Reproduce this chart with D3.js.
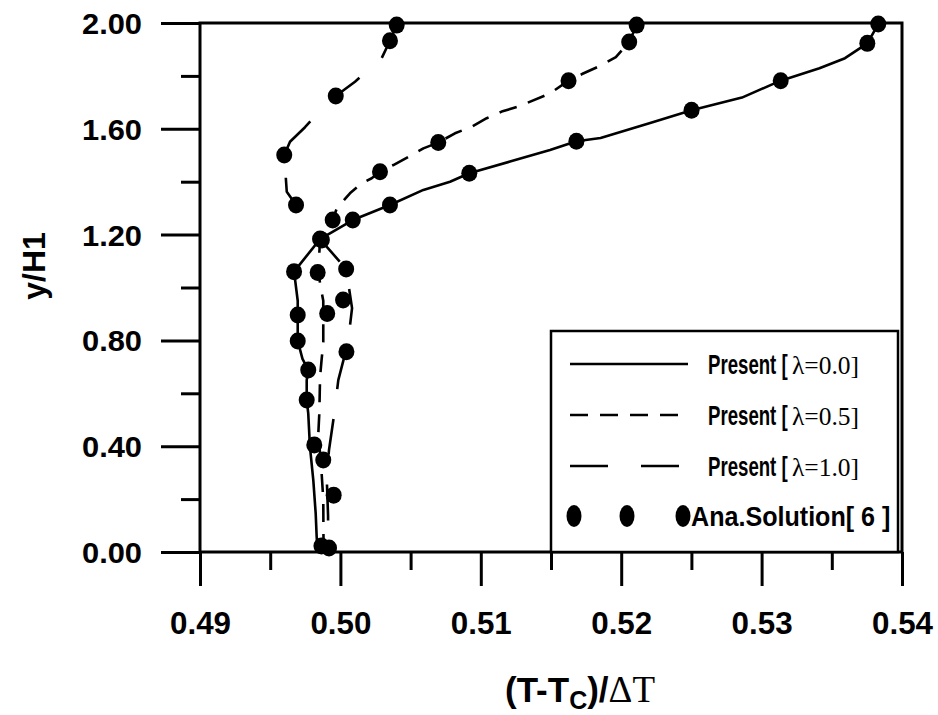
<!DOCTYPE html>
<html>
<head>
<meta charset="utf-8">
<script src="https://cdn.jsdelivr.net/npm/d3@7"></script>
<style>
  html, body { margin: 0; padding: 0; background: #fff; }
  svg { display: block; }
</style>
</head>
<body>
<svg id="chart" width="938" height="715"></svg>
<script>
// Temperature profiles (T - Tc)/ΔT against height y/H1

// Present computation, λ = 0.0 (solid)
const t00 = [0.53831, 0.53753, 0.53594, 0.53412, 0.53136, 0.52860, 0.52501, 0.52212, 0.51853, 0.51681,
             0.51493, 0.51208, 0.50918, 0.50781, 0.50591, 0.50353, 0.50088, 0.49855, 0.49670, 0.49696,
             0.49696, 0.49696, 0.49730, 0.49771, 0.49760, 0.49760, 0.49771, 0.49783, 0.49807, 0.49824,
             0.49831, 0.49838];
const y00 = [1.996, 1.923, 1.867, 1.829, 1.782, 1.718, 1.670, 1.623, 1.565, 1.553,
             1.520, 1.476, 1.432, 1.400, 1.369, 1.312, 1.255, 1.183, 1.060, 0.950,
             0.896, 0.798, 0.730, 0.688, 0.650, 0.575, 0.524, 0.398, 0.272, 0.146,
             0.058, 0.000];

// Present computation, λ = 0.5 (dashed)
const t05 = [0.52110, 0.52057, 0.51962, 0.51853, 0.51721, 0.51625, 0.51493, 0.51267, 0.51149, 0.51042,
             0.50935, 0.50816, 0.50697, 0.50591, 0.50484, 0.50377, 0.50282, 0.50223, 0.50152, 0.50068,
             0.49974, 0.49945, 0.49879, 0.49855, 0.49843, 0.49860, 0.49878, 0.49878, 0.49866, 0.49855,
             0.49850, 0.49843, 0.49866, 0.49878, 0.49880];
const y05 = [1.992, 1.928, 1.871, 1.839, 1.807, 1.782, 1.734, 1.684, 1.665, 1.640,
             1.608, 1.583, 1.548, 1.526, 1.494, 1.463, 1.438, 1.413, 1.394, 1.356,
             1.299, 1.255, 1.212, 1.183, 1.057, 1.000, 0.950, 0.793, 0.726, 0.660,
             0.526, 0.450, 0.300, 0.200, 0.000];

// Present computation, λ = 1.0 (long dash)
const t10 = [0.50401, 0.50353, 0.50294, 0.50104, 0.49967, 0.49926, 0.49748, 0.49641, 0.49600, 0.49618,
             0.49684, 0.49748, 0.49855, 0.50041, 0.50083, 0.50052, 0.50037, 0.49985, 0.49957, 0.49919,
             0.49902, 0.49912, 0.49914];
const y10 = [1.992, 1.933, 1.867, 1.778, 1.724, 1.709, 1.606, 1.551, 1.501, 1.362,
             1.312, 1.249, 1.183, 1.070, 0.922, 0.783, 0.757, 0.650, 0.526, 0.386,
             0.291, 0.140, 0.000];

// Analytical solution [6]
const ana00T = [0.53831, 0.53753, 0.53136, 0.52501, 0.51681, 0.50918, 0.50353, 0.50088, 0.49855, 0.49670,
                0.49696, 0.49696, 0.49771, 0.49760, 0.49814, 0.49865];
const ana00Y = [1.996, 1.923, 1.782, 1.670, 1.553, 1.432, 1.312, 1.255, 1.183, 1.060,
                0.896, 0.798, 0.688, 0.575, 0.405, 0.023];
const ana05T = [0.52110, 0.52057, 0.51625, 0.50697, 0.50282, 0.49945, 0.49838, 0.49906, 0.49878, 0.49919];
const ana05Y = [1.992, 1.928, 1.782, 1.548, 1.438, 1.255, 1.057, 0.902, 0.348, 0.015];
const ana10T = [0.50401, 0.50353, 0.49967, 0.49600, 0.49684, 0.49868, 0.50041, 0.50019, 0.50043, 0.49952];
const ana10Y = [1.992, 1.933, 1.724, 1.501, 1.312, 1.180, 1.070, 0.953, 0.757, 0.215];

// Axis ticks
const xMajor = [0.49, 0.50, 0.51, 0.52, 0.53, 0.54];
const xMinor = [0.495, 0.505, 0.515, 0.525, 0.535];
const yMajor = [0.0, 0.4, 0.8, 1.2, 1.6, 2.0];
const yMinor = [0.2, 0.6, 1.0, 1.4, 1.8];

const legendItems = [
  { label: "Present [", lam: "λ=0.0]", dash: null },
  { label: "Present [", lam: "λ=0.5]", dash: "18,12" },
  { label: "Present [", lam: "λ=1.0]", dash: "38,33" },
  { label: "Ana.Solution[ 6 ]", lam: null, dash: "marker" }
];

const SANS = "'Liberation Sans', Arial, Helvetica, sans-serif";
const SERIF = "'Liberation Serif', 'Times New Roman', Times, serif";

const svg = d3.select("#chart");
const plotL = 200, plotR = 902, plotT = 23, plotB = 552;

const x = d3.scaleLinear().domain([0.49, 0.54]).range([plotL, plotR]);
const y = d3.scaleLinear().domain([0, 2]).range([plotB, plotT]);

// Axes: major ticks with labels, minor ticks without
function styleAxis(g) {
  g.select(".domain").remove();
  g.selectAll(".tick line").attr("stroke", "#000").attr("stroke-width", 3);
}

svg.append("g").attr("transform", `translate(${plotL},0)`)
  .call(d3.axisLeft(y).tickValues(yMinor).tickSize(19).tickFormat(""))
  .call(styleAxis);
svg.append("g").attr("transform", `translate(${plotL},0)`)
  .call(d3.axisLeft(y).tickValues(yMajor).tickSize(39).tickPadding(19).tickFormat(d3.format(".2f")))
  .call(styleAxis)
  .call(g => g.selectAll(".tick text")
    .attr("font-family", SANS).attr("font-weight", "bold").attr("font-size", 29)
    .attr("fill", "#000").attr("dy", "0.36em")
    .attr("textLength", 60).attr("lengthAdjust", "spacingAndGlyphs"));

svg.append("g").attr("transform", `translate(0,${plotB})`)
  .call(d3.axisBottom(x).tickValues(xMinor).tickSize(18).tickFormat(""))
  .call(styleAxis);
svg.append("g").attr("transform", `translate(0,${plotB})`)
  .call(d3.axisBottom(x).tickValues(xMajor).tickSize(34).tickFormat(d3.format(".2f")))
  .call(styleAxis)
  .call(g => g.selectAll(".tick text")
    .attr("font-family", SANS).attr("font-weight", "bold").attr("font-size", 32)
    .attr("fill", "#000").attr("y", 59).attr("dy", "0.71em")
    .attr("textLength", 61).attr("lengthAdjust", "spacingAndGlyphs"));

// Plot frame
svg.append("rect")
  .attr("x", plotL).attr("y", plotT)
  .attr("width", plotR - plotL).attr("height", plotB - plotT)
  .attr("fill", "none").attr("stroke", "#000").attr("stroke-width", 3);

// Curves
const line = d3.line().x(d => x(d[0])).y(d => y(d[1]));
const series = [
  { t: t00, v: y00, dash: null },
  { t: t05, v: y05, dash: "18,12" },
  { t: t10, v: y10, dash: "36,30" }
];
series.forEach(s => {
  svg.append("path")
    .datum(d3.zip(s.t, s.v))
    .attr("d", line)
    .attr("fill", "none")
    .attr("stroke", "#000")
    .attr("stroke-width", 2.6)
    .attr("stroke-linejoin", "round")
    .attr("stroke-dasharray", s.dash);
});

// Analytical markers
const anaPts = [].concat(d3.zip(ana00T, ana00Y), d3.zip(ana05T, ana05Y), d3.zip(ana10T, ana10Y));
svg.append("g").selectAll("ellipse").data(anaPts).join("ellipse")
  .attr("cx", d => x(d[0])).attr("cy", d => y(d[1]))
  .attr("rx", 8).attr("ry", 8.5)
  .attr("fill", "#000");

// Legend (condensed lettering is drawn with a horizontal squeeze)
const lg = svg.append("g");
lg.append("rect")
  .attr("x", 551).attr("y", 331).attr("width", 347).attr("height", plotB - 331)
  .attr("fill", "#fff").attr("stroke", "#000").attr("stroke-width", 2.5);

function squeezed(parent, px, py, sx) {
  return parent.append("g").attr("transform", `translate(${px},${py}) scale(${sx},1)`);
}

const rowY = [364, 415, 466, 516];
legendItems.forEach((it, i) => {
  const cy = rowY[i];
  if (it.dash === "marker") {
    [574, 627, 683].forEach(cx => {
      lg.append("ellipse").attr("cx", cx).attr("cy", cy)
        .attr("rx", 7.5).attr("ry", 11).attr("fill", "#000");
    });
    squeezed(lg, 691, cy + 10, 0.93).append("text")
      .attr("font-family", SANS).attr("font-weight", "bold").attr("font-size", 27)
      .text(it.label);
  } else {
    lg.append("line")
      .attr("x1", 570).attr("x2", 688).attr("y1", cy).attr("y2", cy)
      .attr("stroke", "#000").attr("stroke-width", 2.6)
      .attr("stroke-dasharray", it.dash);
    squeezed(lg, 708, cy + 10, 0.69).append("text")
      .attr("font-family", SANS).attr("font-weight", "bold").attr("font-size", 27)
      .text(it.label);
    squeezed(lg, 792, cy + 10, 0.98).append("text")
      .attr("font-family", SERIF).attr("font-size", 26)
      .text(it.lam);
  }
});

// Axis titles
svg.append("text")
  .attr("transform", "translate(45,266) rotate(-90)")
  .attr("text-anchor", "middle")
  .attr("font-family", SANS).attr("font-weight", "bold").attr("font-size", 32)
  .text("y/H1");

const xt = svg.append("text")
  .attr("x", 580).attr("y", 702)
  .attr("text-anchor", "middle")
  .attr("font-family", SANS).attr("font-weight", "bold").attr("font-size", 35);
xt.append("tspan").text("(T-T");
xt.append("tspan").attr("font-size", 25).attr("dy", 7).text("C");
xt.append("tspan").attr("dy", -7).text(")/");
xt.append("tspan").attr("font-family", SERIF).attr("font-weight", "normal").attr("font-size", 37).text("ΔT");
</script>
</body>
</html>
